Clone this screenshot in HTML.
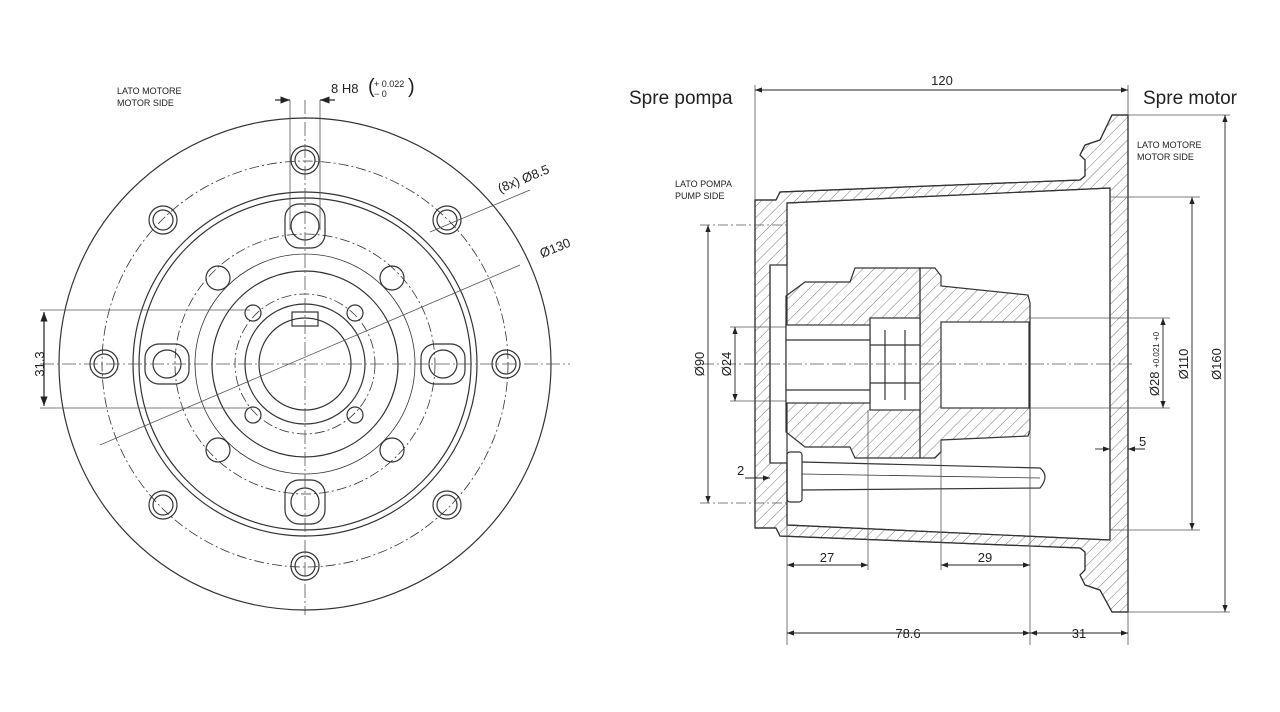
<!DOCTYPE html>
<html><head><meta charset="utf-8"><style>
body{margin:0;background:#fff;width:1280px;height:712px;overflow:hidden}
svg{display:block}
text{font-family:"Liberation Sans",sans-serif;fill:#222}
</style></head><body>
<svg width="1280" height="712" viewBox="0 0 1280 712">
<defs>
<pattern id="h" width="8" height="8" patternUnits="userSpaceOnUse" patternTransform="rotate(45)">
<line x1="0" y1="0" x2="0" y2="8" stroke="#555" stroke-width="0.8"/></pattern>
<marker id="a" markerWidth="8" markerHeight="6" refX="8" refY="3" orient="auto"><path d="M0,0L8,3L0,6z" fill="#222"/></marker>
<marker id="b" markerWidth="8" markerHeight="6" refX="0" refY="3" orient="auto"><path d="M8,0L0,3L8,6z" fill="#222"/></marker>
</defs>
<g fill="none" stroke="#333" stroke-width="1.2">
<!-- LEFT VIEW -->
<circle cx="305" cy="364" r="246"/>
<circle cx="305" cy="364" r="203" stroke-dasharray="10 3 2 3" stroke-width="0.8"/>
<circle cx="305" cy="364" r="172"/>
<circle cx="305" cy="364" r="166"/>
<circle cx="305" cy="364" r="130" stroke-dasharray="10 3 2 3" stroke-width="0.8"/>
<circle cx="305" cy="364" r="110" stroke-width="0.8"/>
<circle cx="305" cy="364" r="93"/>
<circle cx="305" cy="364" r="70" stroke-dasharray="10 3 2 3" stroke-width="0.8"/>
<circle cx="305" cy="364" r="60"/>
<circle cx="305" cy="364" r="46"/>
<rect x="292" y="312" width="26" height="14"/>
<g>
<circle cx="305" cy="160" r="14"/><circle cx="305" cy="160" r="10"/>
<circle cx="163" cy="220" r="14"/><circle cx="163" cy="220" r="10"/>
<circle cx="447" cy="220" r="14"/><circle cx="447" cy="220" r="10"/>
<circle cx="104" cy="364" r="14"/><circle cx="104" cy="364" r="10"/>
<circle cx="506" cy="364" r="14"/><circle cx="506" cy="364" r="10"/>
<circle cx="163" cy="505" r="14"/><circle cx="163" cy="505" r="10"/>
<circle cx="447" cy="505" r="14"/><circle cx="447" cy="505" r="10"/>
<circle cx="305" cy="566" r="14"/><circle cx="305" cy="566" r="10"/>
</g>
<g>
<circle cx="305" cy="226" r="14"/><circle cx="305" cy="502" r="14"/>
<circle cx="167" cy="364" r="14"/><circle cx="443" cy="364" r="14"/>
<circle cx="218" cy="278" r="12"/><circle cx="392" cy="278" r="12"/>
<circle cx="218" cy="450" r="12"/><circle cx="392" cy="450" r="12"/>
<rect x="285" y="204" width="40" height="44" rx="14"/>
<rect x="285" y="480" width="40" height="44" rx="14"/>
<rect x="145" y="344" width="44" height="40" rx="14"/>
<rect x="421" y="344" width="44" height="40" rx="14"/>
<circle cx="253" cy="313" r="8"/><circle cx="355" cy="313" r="8"/>
<circle cx="253" cy="415" r="8"/><circle cx="355" cy="415" r="8"/>
</g>
<g stroke-width="0.8" stroke="#555">
<line x1="40" y1="364" x2="570" y2="364" stroke-dasharray="14 3 2 3"/>
<line x1="305" y1="100" x2="305" y2="615" stroke-dasharray="14 3 2 3"/>
<line x1="290" y1="100" x2="290" y2="230"/><line x1="320" y1="100" x2="320" y2="230"/>
<line x1="40" y1="310" x2="250" y2="310"/><line x1="40" y1="408" x2="250" y2="408"/>
<line x1="100" y1="445" x2="520" y2="265"/>
<line x1="430" y1="232" x2="530" y2="190"/>
</g>
<line x1="44" y1="312" x2="44" y2="406" stroke="#222" marker-start="url(#b)" marker-end="url(#a)"/>
<line x1="275" y1="100" x2="290" y2="100" stroke="#222" marker-end="url(#a)"/>
<line x1="335" y1="100" x2="320" y2="100" stroke="#222" marker-end="url(#a)"/>
<!-- RIGHT VIEW -->
<path d="M755,200 L776,200 L780,192 L1080,180 L1085,176 L1085,160 L1080,155 L1085,145 L1100,140 L1112,115 L1128,115 L1128,612 L1112,612 L1100,590 L1085,585 L1080,575 L1085,570 L1085,552 L1080,548 L780,536 L776,528 L755,528 Z M787,203 L787,265 L770,265 L770,463 L787,463 L787,525 L1110,540 L1110,188 Z" fill="url(#h)" fill-rule="evenodd"/>
<path d="M755,200 L776,200 L780,192 L1080,180 L1085,176 L1085,160 L1080,155 L1085,145 L1100,140 L1112,115 L1128,115 L1128,612 L1112,612 L1100,590 L1085,585 L1080,575 L1085,570 L1085,552 L1080,548 L780,536 L776,528 L755,528 Z"/>
<line x1="787" y1="203" x2="1110" y2="188"/>
<line x1="787" y1="525" x2="1110" y2="540"/>
<line x1="1110" y1="188" x2="1110" y2="540"/>
<line x1="787" y1="203" x2="787" y2="525"/>
<line x1="770" y1="265" x2="770" y2="463"/>
<!-- hub -->
<path d="M786,296 L805,282 L850,282 L855,268 L920,268 L920,458 L855,458 L850,447 L805,447 L786,432 Z" fill="url(#h)"/>
<path d="M920,268 L935,268 L941,276 L941,286 L1028,295 L1030,303 L1030,430 L1028,436 L941,440 L941,452 L935,458 L920,458 Z" fill="url(#h)"/>
<rect x="870" y="318" width="50" height="92" fill="#fff"/>
<rect x="941" y="322" width="88" height="86" fill="#fff"/>
<rect x="786" y="325" width="84" height="78" fill="#fff"/>
<line x1="786" y1="340" x2="870" y2="340"/><line x1="786" y1="390" x2="870" y2="390"/>
<line x1="885" y1="330" x2="885" y2="400"/><line x1="905" y1="330" x2="905" y2="400"/>
<line x1="870" y1="345" x2="920" y2="345"/><line x1="870" y1="383" x2="920" y2="383"/>
<!-- pin -->
<rect x="787" y="452" width="15" height="50" rx="3"/>
<path d="M802,462 L1040,468 Q1050,476 1040,488 L802,490"/>
<line x1="802" y1="474" x2="1040" y2="478" stroke-width="0.8"/>
<g stroke-width="0.8" stroke="#555">
<line x1="700" y1="364" x2="1135" y2="364" stroke-dasharray="14 3 2 3"/>
<line x1="755" y1="85" x2="755" y2="200"/>
<line x1="1128" y1="85" x2="1128" y2="115"/><line x1="1128" y1="612" x2="1128" y2="645"/>
<line x1="787" y1="525" x2="787" y2="645"/><line x1="868" y1="410" x2="868" y2="570"/>
<line x1="941" y1="440" x2="941" y2="570"/><line x1="1030" y1="430" x2="1030" y2="645"/>
<line x1="700" y1="225" x2="790" y2="225" stroke-dasharray="10 3 2 3"/>
<line x1="700" y1="503" x2="790" y2="503" stroke-dasharray="10 3 2 3"/>
<line x1="730" y1="327" x2="786" y2="327"/><line x1="730" y1="401" x2="786" y2="401"/>
<line x1="1030" y1="318" x2="1170" y2="318"/><line x1="1030" y1="408" x2="1170" y2="408"/>
<line x1="1110" y1="197" x2="1200" y2="197"/><line x1="1110" y1="530" x2="1200" y2="530"/>
<line x1="1128" y1="115" x2="1230" y2="115"/><line x1="1128" y1="612" x2="1230" y2="612"/>
</g>
<g stroke="#222" stroke-width="0.9">
<line x1="755" y1="90" x2="1128" y2="90" marker-start="url(#b)" marker-end="url(#a)"/>
<line x1="787" y1="633" x2="1030" y2="633" marker-start="url(#b)" marker-end="url(#a)"/>
<line x1="1030" y1="633" x2="1128" y2="633" marker-start="url(#b)" marker-end="url(#a)"/>
<line x1="787" y1="565" x2="868" y2="565" marker-start="url(#b)" marker-end="url(#a)"/>
<line x1="941" y1="565" x2="1030" y2="565" marker-start="url(#b)" marker-end="url(#a)"/>
<line x1="708" y1="225" x2="708" y2="503" marker-start="url(#b)" marker-end="url(#a)"/>
<line x1="735" y1="327" x2="735" y2="401" marker-start="url(#b)" marker-end="url(#a)"/>
<line x1="1163" y1="318" x2="1163" y2="408" marker-start="url(#b)" marker-end="url(#a)"/>
<line x1="1192" y1="197" x2="1192" y2="530" marker-start="url(#b)" marker-end="url(#a)"/>
<line x1="1225" y1="115" x2="1225" y2="612" marker-start="url(#b)" marker-end="url(#a)"/>
<line x1="1095" y1="449" x2="1110" y2="449" marker-end="url(#a)"/>
<line x1="1145" y1="449" x2="1128" y2="449" marker-end="url(#a)"/>
<line x1="745" y1="478" x2="770" y2="478" marker-end="url(#a)"/>
</g>
</g>
<g font-size="9">
<text x="117" y="94">LATO MOTORE</text><text x="117" y="106">MOTOR SIDE</text>
<text x="675" y="187">LATO POMPA</text><text x="675" y="199">PUMP SIDE</text>
<text x="1137" y="148">LATO MOTORE</text><text x="1137" y="160">MOTOR SIDE</text>
</g>
<g font-size="13">
<text x="331" y="93">8 H8</text>
<text x="368" y="93" font-size="20">(</text><text x="374" y="87" font-size="9">+ 0.022</text><text x="374" y="97" font-size="9">− 0</text><text x="408" y="93" font-size="20">)</text>
<text x="500" y="193" transform="rotate(-22 500 193)">(8x)  Ø8.5</text>
<text x="542" y="258" transform="rotate(-22 542 258)">Ø130</text>
<text x="40" y="368" transform="rotate(-90 40 364)" text-anchor="middle">31.3</text>
<text x="942" y="85" text-anchor="middle">120</text>
<text x="908" y="638" text-anchor="middle">78.6</text>
<text x="1079" y="638" text-anchor="middle">31</text>
<text x="827" y="562" text-anchor="middle">27</text>
<text x="985" y="562" text-anchor="middle">29</text>
<text x="737" y="475">2</text>
<text x="1139" y="446">5</text>
<text x="704" y="364" transform="rotate(-90 704 364)" text-anchor="middle">Ø90</text>
<text x="731" y="364" transform="rotate(-90 731 364)" text-anchor="middle">Ø24</text>
<text x="1159" y="364" transform="rotate(-90 1159 364)" text-anchor="middle">Ø28 <tspan font-size="8">+0.021 +0</tspan></text>
<text x="1188" y="364" transform="rotate(-90 1188 364)" text-anchor="middle">Ø110</text>
<text x="1221" y="364" transform="rotate(-90 1221 364)" text-anchor="middle">Ø160</text>
</g>
<text x="629" y="104" font-size="19">Spre pompa</text>
<text x="1143" y="104" font-size="19">Spre motor</text>
</svg>
</body></html>
